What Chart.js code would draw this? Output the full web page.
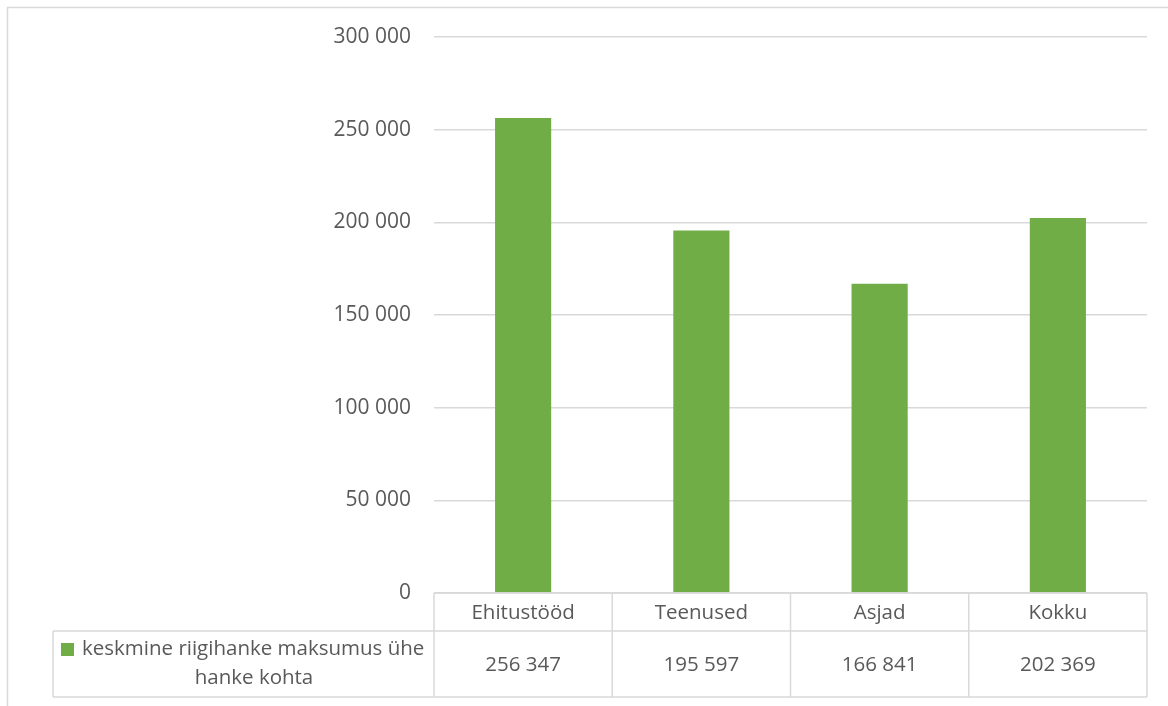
<!DOCTYPE html>
<html>
<head>
<meta charset="utf-8">
<script src="https://cdn.jsdelivr.net/npm/chart.js@4"></script>
<style>
  html, body { margin: 0; padding: 0; background: #fff; }
  #wrap { width: 1168px; height: 706px; }
</style>
</head>
<body>
<div id="wrap"><canvas id="chart" width="1168" height="706"></canvas></div>
<script>
const categories = ['Ehitustööd', 'Teenused', 'Asjad', 'Kokku'];
const avgCost = [256347, 195597, 166841, 202369];
const seriesName = ['keskmine riigihanke maksumus ühe', 'hanke kohta'];
const yTicks = [0, 50000, 100000, 150000, 200000, 250000, 300000];

const green = '#70AD47';
const textGray = '#595959';
const lineGray = '#D9D9D9';
const fontFamily = '"Open Sans", "Noto Sans", sans-serif';

// 256347 -> "256 347"
const fmt = v => String(Math.round(v)).replace(/\B(?=(\d{3})+(?!\d))/g, ' ');

// frame around the whole chart + data table under the plot
const tablePlugin = {
  id: 'dataTable',
  beforeDraw(chart) {
    const ctx = chart.ctx;
    ctx.save();
    ctx.strokeStyle = lineGray;
    ctx.lineWidth = 1.5;
    ctx.beginPath();
    ctx.moveTo(7.5, 720);
    ctx.lineTo(7.5, 7.5);
    ctx.lineTo(1180, 7.5);
    ctx.stroke();
    ctx.restore();
  },
  afterDraw(chart) {
    const ctx = chart.ctx;
    const x = chart.scales.x;
    const top = chart.chartArea.bottom;
    const rowLine = top + 38;
    const bottom = top + 104;
    const legendLeft = 53;
    const half = (x.right - x.left) / categories.length / 2;

    ctx.save();
    ctx.strokeStyle = lineGray;
    ctx.lineWidth = 1.5;
    ctx.beginPath();
    // horizontal rules
    ctx.moveTo(x.left, top); ctx.lineTo(x.right, top);
    ctx.moveTo(legendLeft, rowLine); ctx.lineTo(x.right, rowLine);
    ctx.moveTo(legendLeft, bottom); ctx.lineTo(x.right, bottom);
    // vertical rules
    ctx.moveTo(legendLeft, rowLine); ctx.lineTo(legendLeft, bottom);
    categories.forEach((c, i) => {
      const cx = x.getPixelForValue(i);
      ctx.moveTo(cx - half, top); ctx.lineTo(cx - half, bottom);
    });
    ctx.moveTo(x.right, top); ctx.lineTo(x.right, bottom);
    ctx.stroke();

    ctx.fillStyle = textGray;
    ctx.font = '20.5px ' + fontFamily;
    ctx.textAlign = 'center';
    ctx.textBaseline = 'middle';
    categories.forEach((c, i) => {
      const cx = x.getPixelForValue(i);
      ctx.fillText(c, cx, (top + rowLine) / 2 + 1);
      ctx.fillText(fmt(avgCost[i]), cx, (rowLine + bottom) / 2 + 1);
    });

    // series key
    ctx.fillStyle = green;
    ctx.fillRect(61, 643, 13, 13);
    ctx.fillStyle = textGray;
    ctx.textAlign = 'left';
    ctx.textBaseline = 'alphabetic';
    ctx.fillText(seriesName[0], 82, 655);
    ctx.textAlign = 'center';
    ctx.fillText(seriesName[1], 254, 684);
    ctx.restore();
  }
};

new Chart(document.getElementById('chart'), {
  type: 'bar',
  data: {
    labels: categories,
    datasets: [{
      label: seriesName.join(' '),
      data: avgCost,
      backgroundColor: green,
      barPercentage: 0.315,
      categoryPercentage: 1
    }]
  },
  options: {
    responsive: false,
    animation: false,
    layout: { padding: { top: 37, right: 21, bottom: 113, left: 0 } },
    plugins: {
      legend: { display: false },
      tooltip: { enabled: false }
    },
    scales: {
      x: { display: false },
      y: {
        min: 0,
        max: 300000,
        afterFit: s => { s.width = 434; },
        afterBuildTicks: s => { s.ticks = yTicks.map(v => ({ value: v })); },
        border: { display: false },
        grid: { color: lineGray, lineWidth: 1.5, drawTicks: false },
        ticks: {
          padding: 23,
          color: textGray,
          font: { family: fontFamily, size: 21 },
          callback: v => fmt(v)
        }
      }
    }
  },
  plugins: [tablePlugin]
});
</script>
</body>
</html>
